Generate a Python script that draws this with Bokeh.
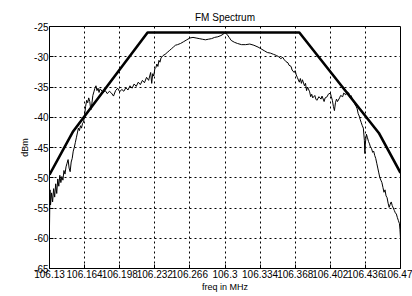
from bokeh.plotting import figure
from bokeh.models import FixedTicker, Range1d
from bokeh.embed import file_html
from bokeh.resources import INLINE

title_text = "FM Spectrum"
x_label = "freq in MHz"
y_label = "dBm"

x_ticks = [106.13, 106.164, 106.198, 106.232, 106.266, 106.3, 106.334,
           106.368, 106.402, 106.436, 106.47]
x_tick_labels = ["106.13", "106.164", "106.198", "106.232", "106.266", "106.3",
                 "106.334", "106.368", "106.402", "106.436", "106.47"]
y_ticks = [-65, -60, -55, -50, -45, -40, -35, -30, -25]
y_tick_labels = ["-65", "-60", "-55", "-50", "-45", "-40", "-35", "-30", "-25"]

# spectral mask
mask_freq = [106.13, 106.153, 106.225, 106.372, 106.449, 106.47]
mask_db = [-49.5, -42.3, -26.0, -26.0, -42.6, -49.2]

spec_freq = [
    106.130, 106.1305, 106.131, 106.132, 106.133, 106.134, 106.135, 106.136, 106.137, 106.138,
    106.139, 106.140, 106.141, 106.142, 106.143, 106.144, 106.145, 106.146, 106.147, 106.148,
    106.149, 106.150, 106.151, 106.152, 106.153, 106.154, 106.155, 106.156, 106.157, 106.158,
    106.159, 106.160, 106.161, 106.162, 106.163, 106.164, 106.165, 106.166, 106.167, 106.168,
    106.169, 106.170, 106.171, 106.172, 106.173, 106.174, 106.175, 106.176, 106.177, 106.178,
    106.179, 106.180, 106.182, 106.184, 106.186, 106.188, 106.190, 106.192, 106.194, 106.196,
    106.198, 106.200, 106.202, 106.204, 106.206, 106.208, 106.210, 106.212, 106.214, 106.216,
    106.218, 106.220, 106.222, 106.224, 106.226, 106.228, 106.229, 106.230, 106.231, 106.232,
    106.233, 106.234, 106.235, 106.236, 106.237, 106.238, 106.240, 106.242, 106.244, 106.246,
    106.248, 106.250, 106.252, 106.254, 106.257, 106.260, 106.263, 106.266, 106.269, 106.272,
    106.275, 106.278, 106.281, 106.284, 106.287, 106.290, 106.293, 106.296, 106.298, 106.300,
    106.302, 106.304, 106.306, 106.309, 106.312, 106.316, 106.320, 106.324, 106.328, 106.332,
    106.335, 106.338, 106.341, 106.344, 106.347, 106.350, 106.352, 106.354, 106.356, 106.357,
    106.359, 106.361, 106.362, 106.364, 106.365, 106.367, 106.368, 106.369, 106.370, 106.372,
    106.373, 106.374, 106.375, 106.377, 106.378, 106.379, 106.380, 106.382, 106.383, 106.384,
    106.385, 106.387, 106.388, 106.389, 106.391, 106.393, 106.394, 106.396, 106.397, 106.399,
    106.400, 106.402, 106.403, 106.404, 106.405, 106.406, 106.407, 106.408, 106.409, 106.411,
    106.412, 106.414, 106.415, 106.417, 106.418, 106.420, 106.421, 106.422, 106.424, 106.425,
    106.427, 106.428, 106.429, 106.430, 106.431, 106.432, 106.433, 106.434, 106.435, 106.4355,
    106.436, 106.437, 106.438, 106.439, 106.440, 106.441, 106.442, 106.443, 106.444, 106.445,
    106.446, 106.447, 106.448, 106.449, 106.450, 106.451, 106.452, 106.453, 106.454, 106.455,
    106.456, 106.457, 106.458, 106.459, 106.460, 106.461, 106.462, 106.463, 106.464, 106.465,
    106.466, 106.467, 106.468, 106.469, 106.4695, 106.470,
]
spec_db = [
    -58.0, -52.0, -54.5, -52.5, -54.0, -51.8, -53.2, -51.0, -52.6, -50.2,
    -51.4, -49.6, -50.8, -49.8, -50.4, -48.8, -49.4, -48.2, -47.6, -47.0,
    -48.4, -49.0, -47.4, -46.8, -45.6, -45.0, -44.2, -43.4, -42.6, -41.8,
    -42.2, -41.4, -41.8, -41.0, -40.8, -39.6, -38.2, -37.2, -37.6, -36.8,
    -37.4, -38.8, -37.8, -36.4, -35.8, -35.2, -34.8, -35.6, -35.2, -35.9,
    -35.3, -35.5, -35.9, -35.6, -36.1, -35.7, -36.0, -36.5, -35.6, -35.2,
    -35.8, -35.4, -35.7, -35.1, -35.5, -34.8, -35.2, -34.5, -34.9, -34.2,
    -34.6, -33.9, -34.3, -33.4, -33.9, -32.6, -34.4, -32.8, -33.2, -32.0,
    -31.8, -31.2, -31.6, -30.6, -30.9, -30.2, -29.8, -29.6, -29.3, -29.0,
    -28.7, -28.4, -28.1, -28.0, -27.8, -27.5, -27.2, -26.9, -26.8, -26.9,
    -27.0, -27.1, -27.2, -27.1, -27.0, -26.8, -26.7, -26.5, -26.3, -26.0,
    -26.3, -26.8, -27.3, -27.6, -27.8, -28.0, -28.0, -27.9, -28.1, -28.4,
    -28.7, -29.0, -29.3, -29.4, -29.6, -29.8, -30.0, -30.3, -30.1, -30.4,
    -30.8, -31.0, -31.4, -31.6, -32.2, -32.6, -32.3, -33.0, -33.4, -34.2,
    -33.6, -34.4, -33.8, -34.8, -34.4, -35.6, -35.0, -35.8, -36.6, -36.2,
    -36.8, -36.4, -37.0, -37.2, -36.6, -37.0, -36.5, -37.4, -36.8, -36.6,
    -36.2, -36.0, -36.6, -37.2, -38.2, -38.9, -37.6, -37.0, -37.4, -36.8,
    -36.4, -36.6, -36.0, -36.3, -35.8, -36.0, -36.7, -36.4, -37.2, -37.6,
    -38.2, -38.6, -39.4, -39.8, -40.4, -40.9, -41.4, -41.8, -43.8, -46.0,
    -44.2, -42.8, -43.4, -44.0, -44.4, -45.0, -45.2, -45.8, -45.6, -46.3,
    -46.8, -47.6, -48.4, -49.2, -50.0, -50.4, -50.8, -51.6, -52.4, -52.0,
    -53.0, -53.3, -54.2, -54.9, -54.4, -54.0, -54.6, -55.0, -55.4, -55.8,
    -56.0, -56.6, -57.1, -57.6, -58.6, -60.0,
]

FONT = "Liberation Sans"

p = figure(width=412, height=296, output_backend="svg", toolbar_location=None,
           x_range=Range1d(106.13, 106.47), y_range=Range1d(-65, -25),
           min_border_left=49, min_border_right=12, min_border_top=26, min_border_bottom=28)
p.frame_width = 351
p.frame_height = 242

p.title.text = title_text
p.title.text_font = FONT
p.title.text_font_size = "10px"
p.title.text_font_style = "normal"
p.title.align = "center"
p.title.text_color = "black"
p.title.standoff = 8

p.line(spec_freq, spec_db, line_color="black", line_width=1)
p.line(mask_freq, mask_db, line_color="black", line_width=2.6)

p.xaxis.ticker = FixedTicker(ticks=x_ticks)
p.xaxis.major_label_overrides = {t: l for t, l in zip(x_ticks, x_tick_labels)}
p.yaxis.ticker = FixedTicker(ticks=y_ticks)
p.yaxis.major_label_overrides = {t: l for t, l in zip(y_ticks, y_tick_labels)}

for ax in (p.xaxis, p.yaxis):
    ax.axis_line_color = "black"
    ax.major_tick_line_color = "black"
    ax.major_tick_in = 4
    ax.major_tick_out = 0
    ax.minor_tick_line_color = None
    ax.major_label_text_font = FONT
    ax.major_label_text_font_size = "10px"
    ax.major_label_text_color = "black"
    ax.major_label_standoff = 1
    ax.axis_label_text_font = FONT
    ax.axis_label_text_font_size = "9px"
    ax.axis_label_text_font_style = "normal"
    ax.axis_label_text_color = "black"
    ax.axis_label_standoff = 1

p.xaxis.axis_label = x_label
p.yaxis.axis_label = y_label

p.grid.grid_line_color = "black"
p.grid.grid_line_dash = "2 3"
p.grid.grid_line_alpha = 1.0
p.grid.grid_line_width = 1
p.outline_line_color = "black"
p.outline_line_width = 1
p.background_fill_color = "white"
p.border_fill_color = "white"

open("out.html", "w").write(file_html(p, INLINE))
